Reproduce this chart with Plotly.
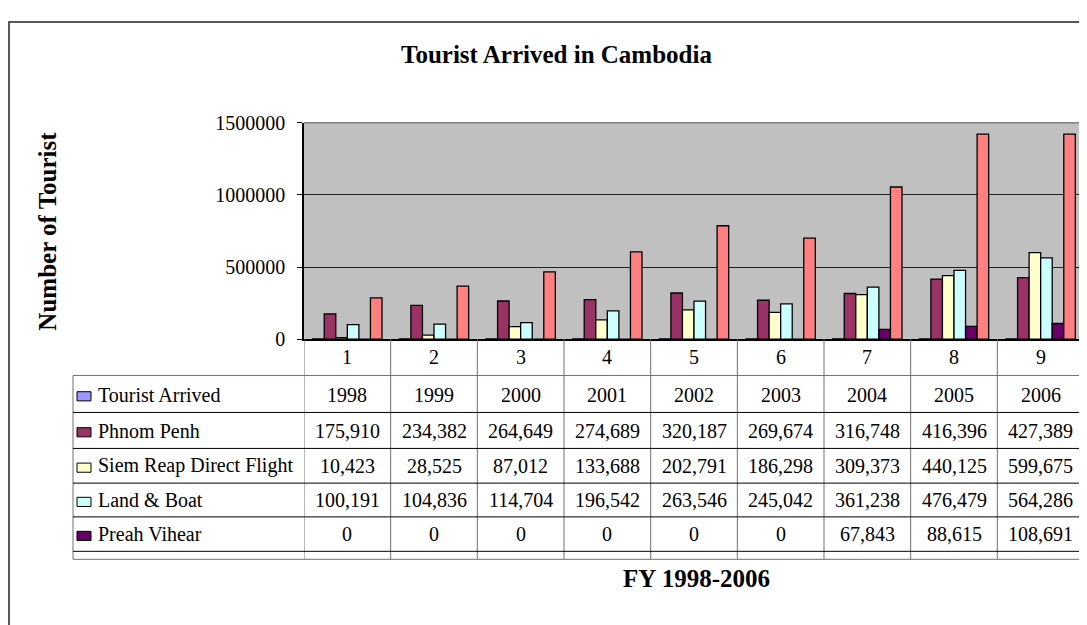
import plotly.graph_objects as go

# ---------------- data ----------------
categories = [1, 2, 3, 4, 5, 6, 7, 8, 9]
tourist_arrived = [1998, 1999, 2000, 2001, 2002, 2003, 2004, 2005, 2006]
phnom_penh = [175910, 234382, 264649, 274689, 320187, 269674, 316748, 416396, 427389]
siem_reap = [10423, 28525, 87012, 133688, 202791, 186298, 309373, 440125, 599675]
land_boat = [100191, 104836, 114704, 196542, 263546, 245042, 361238, 476479, 564286]
preah_vihear = [0, 0, 0, 0, 0, 0, 67843, 88615, 108691]
total = [286524, 367743, 466365, 604919, 786524, 701014, 1055202, 1421615, 1421615]

series_names = ["Tourist Arrived", "Phnom Penh", "Siem Reap Direct Flight", "Land & Boat", "Preah Vihear"]
y_tickvals = [0, 500000, 1000000, 1500000]
y_ticktext = ["0", "500000", "1000000", "1500000"]

title_text = "Tourist Arrived in Cambodia"
y_title = "Number of Tourist"
x_title = "FY 1998-2006"

# ---------------- style ----------------
OFF = 8  # default page body margin
W, H = 1087 - OFF, 625 - OFF
FONT = "Liberation Serif"
colors = ["#9999FF", "#993366", "#FFFFCC", "#CCFFFF", "#660066", "#FF8080"]


def px(x):
    return (x - OFF) / W


def py(y):
    return 1 - (y - OFF) / H


PLOT_L, PLOT_R, PLOT_T, PLOT_B = 304, 1084, 115.7, 340
TABLE_L = 73
row_lines = [377.7, 416, 453.3, 489.3, 524.3, 560, 568.3]
header_center = 358
row_centers = [397.5, 434.8, 471.5, 507, 542.3]

fig = go.Figure()
all_series = [tourist_arrived, phnom_penh, siem_reap, land_boat, preah_vihear, total]
all_names = series_names + ["Total"]
for vals, name, col in zip(all_series, all_names, colors):
    fig.add_trace(go.Bar(
        x=categories, y=vals, name=name,
        marker=dict(color=col, line=dict(color="black", width=1.3)),
        hoverinfo="skip",
    ))

shapes = []
# outer chart border (top + left visible)
shapes.append(dict(type="rect", xref="paper", yref="paper",
                   x0=px(9), x1=px(1087 + 40), y0=py(625 + 40), y1=py(11),
                   line=dict(color="#222222", width=1.5), layer="below"))
# plot area top/right border gray
shapes.append(dict(type="line", xref="paper", yref="paper",
                   x0=px(PLOT_L), x1=px(PLOT_R), y0=py(PLOT_T), y1=py(PLOT_T),
                   line=dict(color="#808080", width=1.5)))
shapes.append(dict(type="line", xref="paper", yref="paper",
                   x0=px(PLOT_R), x1=px(PLOT_R), y0=py(PLOT_B), y1=py(PLOT_T),
                   line=dict(color="#808080", width=1.5)))
# table vertical lines at category boundaries
for k in range(len(categories) + 1):
    shapes.append(dict(type="line", xref="x", yref="paper",
                       x0=k + 0.5, x1=k + 0.5, y0=py(PLOT_B), y1=py(row_lines[-1]),
                       line=dict(color="#707070", width=1)))
# table left border
shapes.append(dict(type="line", xref="paper", yref="paper",
                   x0=px(TABLE_L), x1=px(TABLE_L), y0=py(row_lines[0]), y1=py(row_lines[-1]),
                   line=dict(color="#707070", width=1)))
# table horizontal lines
for i, yl in enumerate(row_lines):
    col = "#707070" if i in (0, len(row_lines) - 1) else "black"
    shapes.append(dict(type="line", xref="paper", yref="paper",
                       x0=px(TABLE_L), x1=px(PLOT_R), y0=py(yl), y1=py(yl),
                       line=dict(color=col, width=1)))
# legend keys in row headers
for i, c in enumerate(colors[:5]):
    yc = row_centers[i] + 1.5
    shapes.append(dict(type="rect", xref="paper", yref="paper",
                       x0=px(77), x1=px(91), y0=py(yc + 5), y1=py(yc - 4.5),
                       fillcolor=c, line=dict(color="black", width=1)))

annotations = []


def ann(text, x, y, xref="paper", size=20, xanchor="center", angle=0):
    annotations.append(dict(text=text, xref=xref, yref="paper", x=x, y=y,
                            xanchor=xanchor, yanchor="middle", showarrow=False,
                            textangle=angle,
                            font=dict(family=FONT, size=size, color="black")))


ann("<b>" + title_text + "</b>", px(556), py(45), size=25)
ann("<b>" + y_title + "</b>", px(48), py(228.5), size=25, angle=-90)
ann("<b>" + x_title + "</b>", px(697), py(588), size=25)
# header row (category numbers)
for c in categories:
    ann(str(c), c, py(header_center), xref="x")
# row headers and values
for i, (name, vals) in enumerate(zip(series_names, all_series[:5])):
    ann(name, px(96), py(row_centers[i]), xanchor="left")
    for c, v in zip(categories, vals):
        txt = str(v) if i == 0 else f"{v:,}"
        ann(txt, c, py(row_centers[i]), xref="x")

fig.update_layout(
    width=W, height=H,
    margin=dict(l=0, r=0, t=0, b=0),
    paper_bgcolor="white",
    plot_bgcolor="#C0C0C0",
    barmode="group", bargap=0.2, bargroupgap=0,
    showlegend=False,
    shapes=shapes,
    annotations=annotations,
    xaxis=dict(domain=[px(PLOT_L), px(PLOT_R)], range=[0.5, 9.5],
               showticklabels=False, ticks="", showgrid=False, zeroline=False,
               showline=True, linecolor="black", linewidth=2, fixedrange=True),
    yaxis=dict(domain=[py(PLOT_B), py(PLOT_T)], range=[0, 1500000],
               tickvals=y_tickvals, ticktext=y_ticktext,
               ticks="outside", ticklen=5, tickcolor="black", tickwidth=1,
               ticklabelstandoff=8,
               tickfont=dict(family=FONT, size=20, color="black"),
               showgrid=True, gridcolor="#222222", gridwidth=1,
               zeroline=False, showline=True, linecolor="black", linewidth=1.5,
               fixedrange=True),
)

fig.write_html("out.html")
